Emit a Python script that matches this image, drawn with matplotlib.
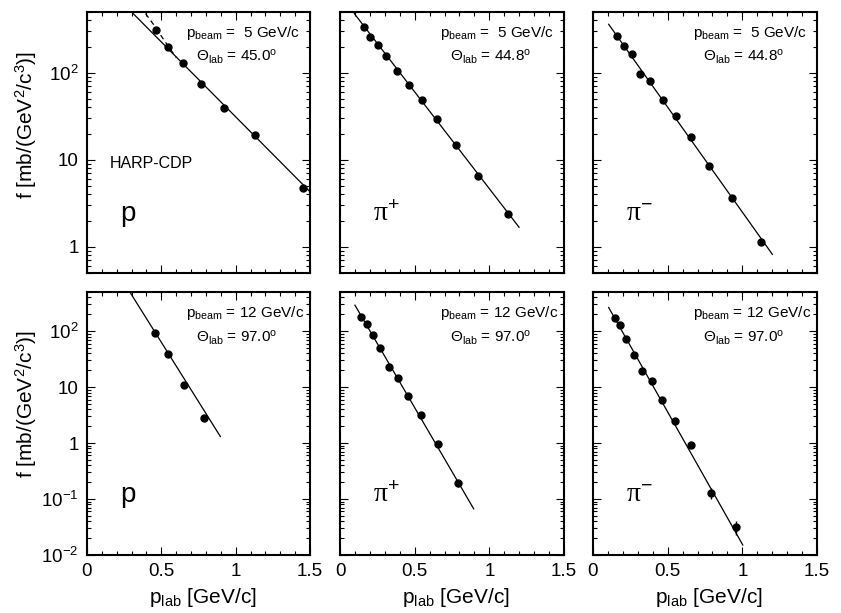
import matplotlib
matplotlib.use("Agg")
import matplotlib.pyplot as plt
from matplotlib.ticker import FixedLocator, MultipleLocator, LogLocator, FuncFormatter, NullFormatter
import numpy as np

plt.rcParams['font.family'] = ['Liberation Sans', 'DejaVu Sans']
plt.rcParams['mathtext.fontset'] = 'custom'
plt.rcParams['mathtext.rm'] = 'Liberation Sans'
plt.rcParams['mathtext.it'] = 'Liberation Sans:italic'
plt.rcParams['mathtext.bf'] = 'Liberation Sans:bold'
plt.rcParams['mathtext.sf'] = 'Liberation Serif'
plt.rcParams['mathtext.default'] = 'regular'

# ---------------- data ----------------
# top row: p_beam = 5 GeV/c
p5_x = [0.463, 0.546, 0.644, 0.770, 0.921, 1.128, 1.454]
p5_y = [314, 199, 130, 74, 39.7, 19.3, 4.74]
p5_fit_x = [0.30, 1.50]
p5_fit_y = [500, 4.3]
p5_dash_x = [0.394, 0.45, 0.52, 0.60]
p5_dash_y = [479, 355, 235, 150]

pip5_x = [0.163, 0.203, 0.255, 0.310, 0.382, 0.464, 0.551, 0.650, 0.775, 0.926, 1.127]
pip5_y = [340, 258, 211, 157, 105, 72.3, 49.1, 29.5, 14.9, 6.5, 2.41]
pip5_fit_x = [0.096, 1.199]
pip5_fit_y = [479, 1.68]

pim5_x = [0.164, 0.208, 0.258, 0.313, 0.383, 0.468, 0.555, 0.654, 0.777, 0.931, 1.123]
pim5_y = [263, 204, 163, 96.6, 81, 48.3, 32.1, 18.3, 8.6, 3.6, 1.14]
pim5_fit_x = [0.105, 1.201]
pim5_fit_y = [361, 0.82]

# bottom row: p_beam = 12 GeV/c
p12_x = [0.456, 0.546, 0.651, 0.790]
p12_y = [92, 39.3, 10.9, 2.83]
p12_fit_x = [0.293, 0.897]
p12_fit_y = [477, 1.31]

pip12_x = [0.143, 0.179, 0.219, 0.268, 0.328, 0.389, 0.455, 0.542, 0.656, 0.790]
pip12_y = [182, 133, 86, 49, 22.7, 14.7, 6.8, 3.16, 0.97, 0.193]
pip12_err = [0, 0, 0, 0, 0, 0, 0, 0, 0.03, 0.03]
pip12_fit_x = [0.100, 0.895]
pip12_fit_y = [291, 0.067]

pim12_x = [0.150, 0.181, 0.224, 0.273, 0.331, 0.394, 0.463, 0.548, 0.656, 0.792, 0.958]
pim12_y = [175, 128, 73.8, 37.7, 19.3, 12.6, 6.0, 2.47, 0.91, 0.13, 0.0316]
pim12_err = [0, 0, 0, 0, 0, 0, 0, 0, 0.05, 0.03, 0.009]
pim12_fit_x = [0.105, 1.003]
pim12_fit_y = [264, 0.0151]

particles = ["p", r"$\mathsf{\pi}^{+}$", r"$\mathsf{\pi}^{-}$"]
beam_labels = [r"p$_{beam}$ =  5 GeV/c", r"p$_{beam}$ = 12 GeV/c"]
angle_labels = [["45.0", "44.8", "44.8"], ["97.0", "97.0", "97.0"]]
xticks = [0, 0.5, 1, 1.5]
xtick_labels = ["0", "0.5", "1", "1.5"]

# ---------------- layout ----------------
W, H = 841, 613
fig = plt.figure(figsize=(W / 100, H / 100), dpi=100)
fig.patch.set_facecolor('white')

xcols = [(87, 310), (340, 564), (593, 817)]
yrows = [(12, 273), (292, 555)]
ylims = [(0.5, 500), (0.01, 500)]

def ax_rect(c, r):
    x0, x1 = xcols[c]
    y0, y1 = yrows[r]
    return [x0 / W, 1 - y1 / H, (x1 - x0) / W, (y1 - y0) / H]

def yfmt(v, pos):
    e = int(round(np.log10(v)))
    if abs(np.log10(v) - e) > 1e-6:
        return ""
    if e == 0:
        return "1"
    if e == 1:
        return "10"
    return r"$10^{%d}$" % e

data = [
    [(p5_x, p5_y, None, p5_fit_x, p5_fit_y),
     (pip5_x, pip5_y, None, pip5_fit_x, pip5_fit_y),
     (pim5_x, pim5_y, None, pim5_fit_x, pim5_fit_y)],
    [(p12_x, p12_y, None, p12_fit_x, p12_fit_y),
     (pip12_x, pip12_y, pip12_err, pip12_fit_x, pip12_fit_y),
     (pim12_x, pim12_y, pim12_err, pim12_fit_x, pim12_fit_y)],
]

for r in range(2):
    for c in range(3):
        ax = fig.add_axes(ax_rect(c, r))
        ax.set_yscale('log')
        ax.set_xlim(0, 1.5)
        ax.set_ylim(*ylims[r])
        x, y, err, fx, fy = data[r][c]
        ax.plot(fx, fy, color='black', lw=0.9, zorder=2)
        if r == 0 and c == 0:
            ax.plot(p5_dash_x, p5_dash_y, color='black', lw=0.9,
                    ls=(0, (4, 3)), zorder=2)
        if err is not None:
            ax.errorbar(x, y, yerr=err, fmt='o', color='black', ms=5,
                        elinewidth=1, capsize=0, zorder=3)
        else:
            ax.plot(x, y, 'o', color='black', ms=5, zorder=3)

        ax.xaxis.set_major_locator(FixedLocator(xticks))
        ax.xaxis.set_minor_locator(MultipleLocator(0.1))
        ax.yaxis.set_major_locator(LogLocator(base=10, numticks=20))
        ax.yaxis.set_minor_locator(LogLocator(base=10, subs=np.arange(2, 10), numticks=20))
        ax.yaxis.set_minor_formatter(NullFormatter())
        ax.tick_params(which='both', direction='in', top=True, right=True,
                       width=0.8, labelsize=13.5)
        ax.tick_params(which='major', length=5.5)
        ax.tick_params(which='minor', length=3)
        ax.tick_params(axis='x', pad=6)
        ax.tick_params(axis='y', pad=6)
        for s in ax.spines.values():
            s.set_linewidth(1.5)

        if c == 0:
            ax.yaxis.set_major_formatter(FuncFormatter(yfmt))
        else:
            ax.yaxis.set_major_formatter(NullFormatter())
        if r == 1:
            ax.set_xticklabels(xtick_labels)
        else:
            ax.xaxis.set_major_formatter(NullFormatter())

        # annotations
        ax.text(0.445, 0.905, beam_labels[r], transform=ax.transAxes,
                fontsize=11, ha='left', va='baseline')
        ax.text(0.49, 0.81, "\u0398$_{lab}$ = " + angle_labels[r][c] + "$^{o}$",
                transform=ax.transAxes, fontsize=11, ha='left', va='baseline')
        ax.text(0.148, 0.20, particles[c], transform=ax.transAxes,
                fontsize=20, ha='left', va='baseline')
        if r == 0 and c == 0:
            ax.text(0.10, 0.401, "HARP-CDP", transform=ax.transAxes,
                    fontsize=11.5, ha='left', va='baseline')

        if r == 1:
            x0, x1 = xcols[c]
            fig.text(((x0 + x1) / 2 + 4) / W, 1 - 603 / H, r"p$_{lab}$ [GeV/c]",
                     fontsize=15, ha='center', va='baseline')

# y labels
for r, yc in enumerate([125, 404]):
    fig.text(26 / W, 1 - yc / H, r"f [mb/(GeV$^{2}$/c$^{3}$)]", fontsize=15,
             rotation=90, ha='center', va='center')

fig.savefig("out.png", dpi=100, facecolor='white')
